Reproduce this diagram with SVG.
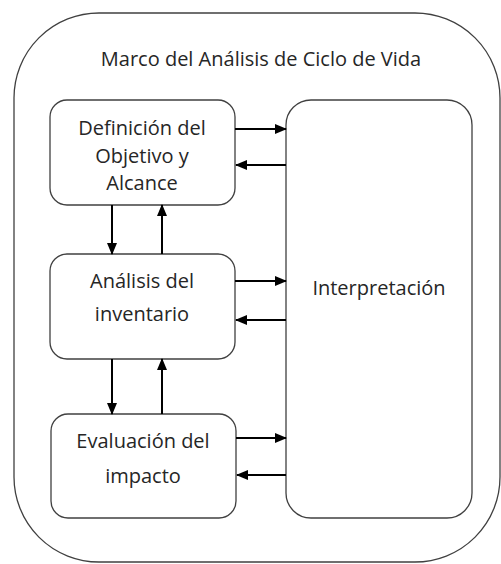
<svg xmlns="http://www.w3.org/2000/svg" width="501" height="564" viewBox="0 0 501 564">
<style>
.box{fill:#fff;stroke:#404040;stroke-width:1.3}
.t{font-family:"Open Sans","Liberation Sans",sans-serif;font-size:20px;fill:#262626;text-anchor:middle}
.c{stroke:#000;stroke-width:2;fill:none}
</style>
<defs>
<marker id="ah" markerWidth="12" markerHeight="10" refX="11" refY="5" orient="auto" markerUnits="userSpaceOnUse">
<path d="M0,0 L12,5 L0,10 Z" fill="#000"/>
</marker>
</defs>
<rect width="501" height="564" fill="#fff"/>
<g id="marco">
<rect class="box" x="14" y="13" width="486" height="549" rx="85" ry="85"/>
<text class="t" x="261" y="66">Marco del Análisis de Ciclo de Vida</text>
</g>
<g id="definicion">
<rect class="box" x="50" y="100" width="185" height="105" rx="17" ry="17"/>
<text class="t" x="142" y="135">Definición del</text>
<text class="t" x="142" y="163">Objetivo y</text>
<text class="t" x="142" y="190">Alcance</text>
</g>
<g id="analisis">
<rect class="box" x="50" y="254" width="185" height="105" rx="17" ry="17"/>
<text class="t" x="142" y="288">Análisis del</text>
<text class="t" x="142" y="321">inventario</text>
</g>
<g id="evaluacion">
<rect class="box" x="51" y="414" width="185" height="104" rx="17" ry="17"/>
<text class="t" x="143" y="448">Evaluación del</text>
<text class="t" x="143" y="483">impacto</text>
</g>
<g id="interpretacion">
<rect class="box" x="286" y="100" width="186" height="418" rx="25" ry="25"/>
<text class="t" x="379" y="295">Interpretación</text>
</g>
<g id="connectors">
<line class="c" x1="235" y1="129" x2="286" y2="129" marker-end="url(#ah)"/>
<line class="c" x1="286" y1="165" x2="236" y2="165" marker-end="url(#ah)"/>
<line class="c" x1="235" y1="281" x2="286" y2="281" marker-end="url(#ah)"/>
<line class="c" x1="286" y1="320" x2="236" y2="320" marker-end="url(#ah)"/>
<line class="c" x1="236" y1="438" x2="286" y2="438" marker-end="url(#ah)"/>
<line class="c" x1="286" y1="475" x2="237" y2="475" marker-end="url(#ah)"/>
<line class="c" x1="112" y1="205" x2="112" y2="254" marker-end="url(#ah)"/>
<line class="c" x1="162" y1="254" x2="162" y2="205" marker-end="url(#ah)"/>
<line class="c" x1="112" y1="359" x2="112" y2="414" marker-end="url(#ah)"/>
<line class="c" x1="162" y1="414" x2="162" y2="359" marker-end="url(#ah)"/>
</g>
</svg>
